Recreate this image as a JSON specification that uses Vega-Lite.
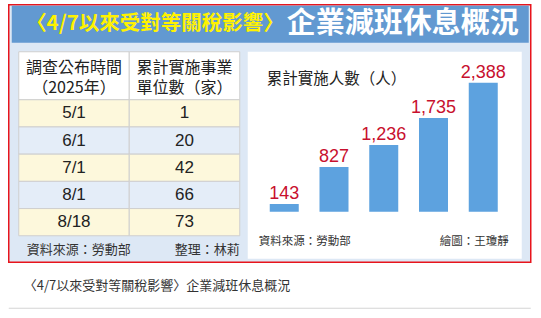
{
  "$schema": "https://vega.github.io/schema/vega-lite/v6.json",
  "background": "white",
  "padding": {"left": 7.75, "top": 3.75, "right": 0, "bottom": 0},
  "spacing": 16,
  "config": {
    "view": {"stroke": null},
    "font": "Noto Sans CJK TC",
    "axis": {"grid": false}
  },
  "datasets": {
    "rows": [
      {"date": "5/1", "label": "'25/5/1", "firms": 1, "people": 143},
      {"date": "6/1", "label": "6/1", "firms": 20, "people": 827},
      {"date": "7/1", "label": "7/1", "firms": 42, "people": 1236},
      {"date": "8/1", "label": "8/1", "firms": 66, "people": 1735},
      {"date": "8/18", "label": "8/18", "firms": 73, "people": 2388}
    ]
  },
  "vconcat": [
    {
      "width": 522,
      "height": 257.5,
      "view": {"fill": "#dde8f5", "stroke": "#e8141c", "strokeWidth": 1.5},
      "resolve": {
        "scale": {"x": "independent", "y": "independent", "fill": "independent"},
        "axis": {"x": "independent", "y": "independent"}
      },
      "layer": [
        {
          "data": {"values": [{"k": "banner", "part1": "〈4/7以來受對等關稅影響〉", "part2": "企業減班休息概況"}]},
          "layer": [
            {
              "mark": {"type": "rect", "fill": "#6299d1"},
              "encoding": {
                "x": {"field": "k", "type": "nominal", "scale": {"domain": ["banner"], "range": [3, 520], "paddingInner": 0, "paddingOuter": 0}, "axis": null},
                "y": {"field": "k", "type": "nominal", "scale": {"domain": ["banner"], "range": [1, 38], "paddingInner": 0, "paddingOuter": 0}, "axis": null}
              }
            },
            {
              "mark": {"type": "text", "align": "right", "baseline": "middle", "dx": 14, "fontSize": 20.5, "fontWeight": "bold", "color": "#fff200"},
              "encoding": {
                "y": {"field": "k", "type": "nominal", "axis": null},
                "text": {"field": "part1", "type": "nominal"}
              }
            },
            {
              "mark": {"type": "text", "align": "left", "baseline": "middle", "dx": 17, "fontSize": 29, "fontWeight": "bold", "color": "#ffffff"},
              "encoding": {
                "y": {"field": "k", "type": "nominal", "axis": null},
                "text": {"field": "part2", "type": "nominal"}
              }
            }
          ]
        },
        {
          "data": {"values": [
            {"col": "date", "row": "head", "head": "調查公布時間\n（2025年）"},
            {"col": "firms", "row": "head", "head": "累計實施事業\n單位數（家）"}
          ]},
          "encoding": {
            "x": {"field": "col", "type": "nominal", "scale": {"domain": ["date", "firms"], "range": [10, 231], "paddingInner": 0, "paddingOuter": 0}, "axis": null},
            "y": {"field": "row", "type": "nominal", "scale": {"domain": ["head"], "range": [47, 95], "paddingInner": 0, "paddingOuter": 0}, "axis": null}
          },
          "layer": [
            {"mark": {"type": "rect", "fill": "#ffffff", "stroke": "#cfcfcf", "strokeWidth": 1}},
            {
              "mark": {"type": "text", "baseline": "middle", "dy": -8, "lineBreak": "\n", "lineHeight": 20, "fontSize": 16, "color": "#222222"},
              "encoding": {"text": {"field": "head", "type": "nominal"}}
            }
          ]
        },
        {
          "layer": [
            {
              "data": {"name": "rows"},
              "transform": [{"fold": ["date", "firms"], "as": ["col", "val"]}],
              "mark": {"type": "rect", "stroke": "#cfcfcf", "strokeWidth": 1},
              "encoding": {
                "x": {"field": "col", "type": "nominal", "scale": {"domain": ["date", "firms"], "range": [10, 231], "paddingInner": 0, "paddingOuter": 0}, "axis": null},
                "y": {"field": "date", "type": "nominal", "scale": {"domain": ["5/1", "6/1", "7/1", "8/1", "8/18", "footer"], "range": [95, 258.2], "paddingInner": 0, "paddingOuter": 0}, "axis": null},
                "fill": {"field": "date", "type": "nominal", "scale": {"domain": ["5/1", "6/1", "7/1", "8/1", "8/18"], "range": ["#fdf8dc", "#e4edf8", "#fdf8dc", "#e4edf8", "#fdf8dc"]}, "legend": null}
              }
            },
            {
              "data": {"name": "rows"},
              "transform": [{"fold": ["date", "firms"], "as": ["col", "val"]}],
              "mark": {"type": "text", "baseline": "middle", "fontSize": 17, "font": "Liberation Sans", "color": "#222222"},
              "encoding": {
                "x": {"field": "col", "type": "nominal", "axis": null},
                "y": {"field": "date", "type": "nominal", "axis": null},
                "text": {"field": "val", "type": "nominal"}
              }
            },
            {
              "data": {"values": [{"src": "資料來源：勞動部", "by": "整理：林莉"}]},
              "mark": {"type": "text", "align": "left", "baseline": "middle", "dx": 8, "dy": 1, "fontSize": 13, "color": "#333333"},
              "encoding": {
                "x": {"datum": "date", "type": "nominal", "bandPosition": 0, "axis": null},
                "y": {"datum": "footer", "type": "nominal", "axis": null},
                "text": {"field": "src", "type": "nominal"}
              }
            },
            {
              "data": {"values": [{"src": "資料來源：勞動部", "by": "整理：林莉"}]},
              "mark": {"type": "text", "align": "right", "baseline": "middle", "dy": 1, "fontSize": 13, "color": "#333333"},
              "encoding": {
                "x": {"datum": "firms", "type": "nominal", "bandPosition": 1, "axis": null},
                "y": {"datum": "footer", "type": "nominal", "axis": null},
                "text": {"field": "by", "type": "nominal"}
              }
            }
          ]
        },
        {
          "data": {"values": [{"k": "panel", "title": "累計實施人數（人）", "src": "資料來源：勞動部", "by": "繪圖：王瓊靜"}]},
          "layer": [
            {
              "mark": {"type": "rect", "fill": "#ffffff"},
              "encoding": {
                "x": {"field": "k", "type": "nominal", "scale": {"domain": ["panel"], "range": [239, 513], "paddingInner": 0, "paddingOuter": 0}, "axis": null},
                "y": {"field": "k", "type": "nominal", "scale": {"domain": ["panel"], "range": [47, 254], "paddingInner": 0, "paddingOuter": 0}, "axis": null}
              }
            },
            {
              "mark": {"type": "text", "align": "left", "baseline": "middle", "fontSize": 15.5, "color": "#222222"},
              "encoding": {
                "x": {"field": "k", "type": "nominal", "bandPosition": 0.069, "axis": null},
                "y": {"field": "k", "type": "nominal", "bandPosition": 0.13, "axis": null},
                "text": {"field": "title", "type": "nominal"}
              }
            },
            {
              "mark": {"type": "text", "align": "left", "baseline": "middle", "fontSize": 11.5, "color": "#333333"},
              "encoding": {
                "x": {"field": "k", "type": "nominal", "bandPosition": 0.04, "axis": null},
                "y": {"field": "k", "type": "nominal", "bandPosition": 0.918, "axis": null},
                "text": {"field": "src", "type": "nominal"}
              }
            },
            {
              "mark": {"type": "text", "align": "right", "baseline": "middle", "fontSize": 11.5, "color": "#333333"},
              "encoding": {
                "x": {"field": "k", "type": "nominal", "bandPosition": 0.953, "axis": null},
                "y": {"field": "k", "type": "nominal", "bandPosition": 0.918, "axis": null},
                "text": {"field": "by", "type": "nominal"}
              }
            }
          ]
        },
        {
          "data": {"name": "rows"},
          "encoding": {
            "x": {
              "field": "label", "type": "nominal", "sort": null,
              "scale": {"domain": ["'25/5/1", "6/1", "7/1", "8/1", "8/18"], "range": [250, 500], "paddingInner": 0.417, "paddingOuter": 0.221},
              "axis": {
                "orient": "bottom", "offset": -50.5, "title": null, "labelAngle": 0,
                "labelFont": "Liberation Sans", "labelFontSize": 15, "labelColor": "#222222", "labelPadding": 2,
                "tickSize": 4, "tickColor": "#aaaaaa", "tickWidth": 1,
                "domainColor": "#aaaaaa", "domainWidth": 1.5, "grid": false
              }
            },
            "y": {"field": "people", "type": "quantitative", "scale": {"domain": [0, 2400], "range": [207, 77.35], "nice": false, "zero": true}, "axis": null}
          },
          "layer": [
            {"mark": {"type": "bar", "color": "#5da2df"}},
            {
              "mark": {"type": "text", "baseline": "alphabetic", "dy": -5, "fontSize": 18, "font": "Liberation Sans", "color": "#c8102e"},
              "encoding": {"text": {"field": "people", "type": "quantitative", "format": ","}}
            }
          ]
        }
      ]
    },
    {
      "width": 522,
      "height": 1,
      "view": {"fill": "#d4d4d4", "stroke": null},
      "data": {"values": []},
      "mark": "point",
      "title": {
        "text": "〈4/7以來受對等關稅影響〉企業減班休息概況",
        "orient": "top", "anchor": "start", "frame": "group",
        "dx": 15, "offset": 15,
        "fontSize": 13, "fontWeight": "normal", "color": "#333333", "font": "Noto Sans CJK TC"
      }
    }
  ]
}
